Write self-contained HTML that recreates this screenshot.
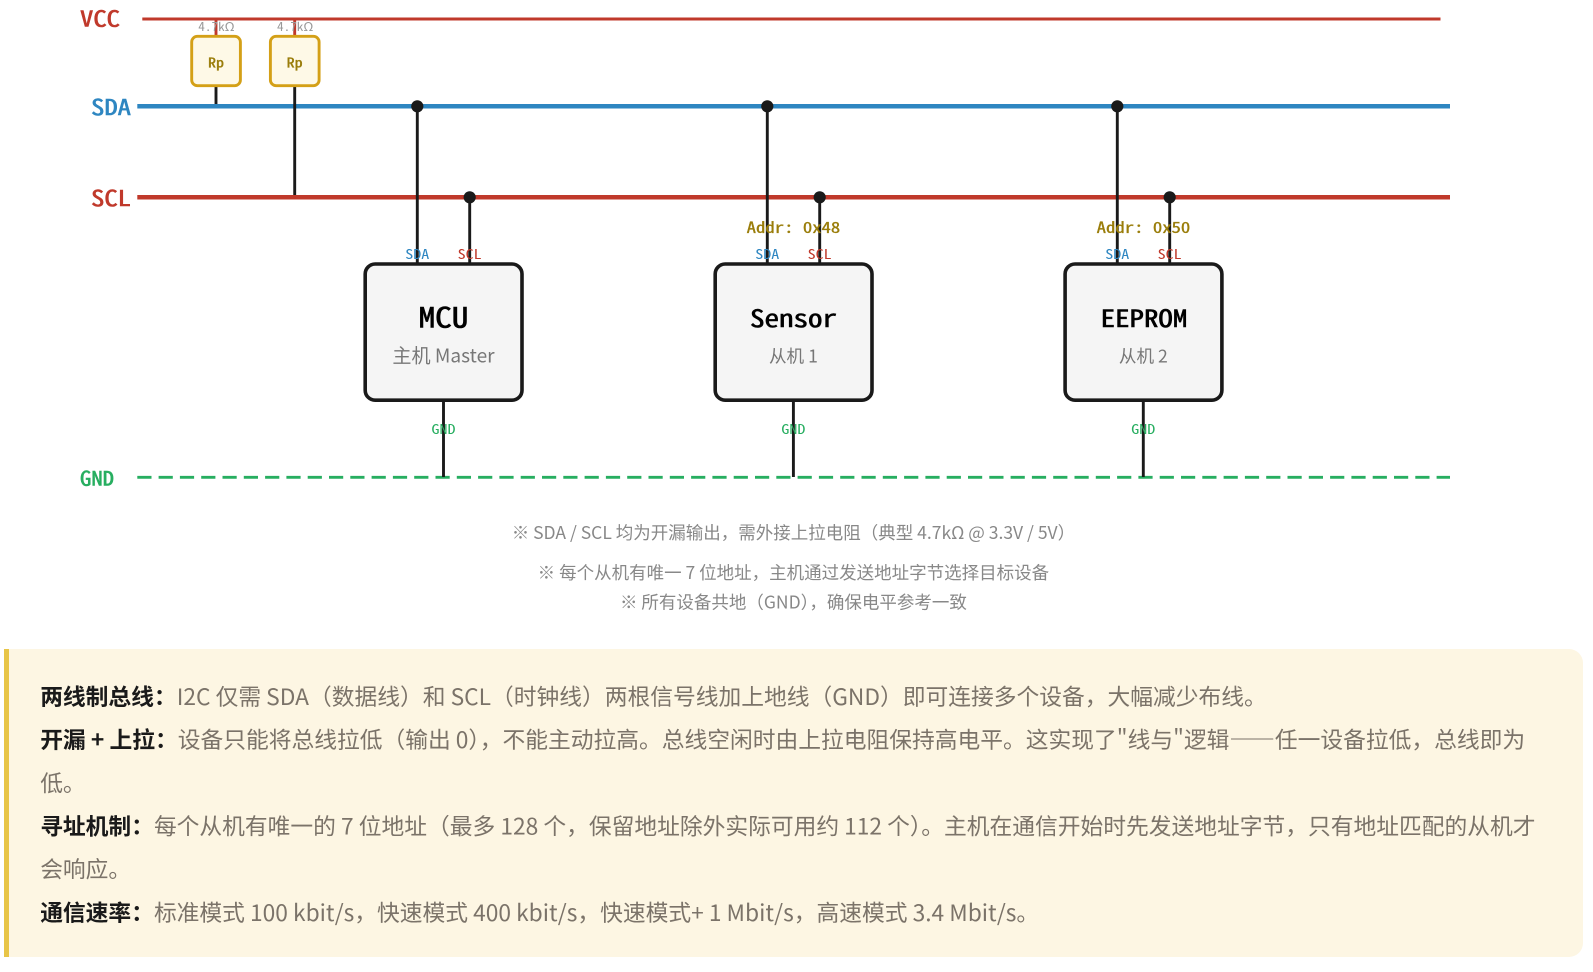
<!DOCTYPE html>
<html lang="zh">
<head>
<meta charset="utf-8">
<title>I2C</title>
<style>
html,body{margin:0;padding:0;background:#fff;width:1593px;height:972px;overflow:hidden}
svg{display:block;position:absolute;left:0;top:0}
text{white-space:pre}
.m{font-family:"Noto Sans Mono CJK SC","DejaVu Sans Mono","Liberation Mono",monospace}
.c{font-family:"Noto Sans CJK SC","Liberation Sans",sans-serif}
.lb{font-size:22px;font-weight:400;stroke-width:.55px}
.pin{font-size:13.3px}
.addr{font-size:15.6px;font-weight:400;fill:#9a7d0a;stroke:#9a7d0a;stroke-width:.3px}
.body{font-size:22.76px;fill:#7b7369}
.body .k{font-weight:700;fill:#1a1a1a}
.note{fill:#888;text-anchor:middle;font-size:17.5px}
.sub{font-size:19.1px;fill:#777;text-anchor:middle}
.sub2{font-size:17.6px;fill:#777;text-anchor:middle}
</style>
</head>
<body>
<svg width="1593" height="972" viewBox="0 0 1593 972" xmlns="http://www.w3.org/2000/svg">
<line x1="142.3" y1="19" x2="1440.5" y2="19" stroke="#c0392b" stroke-width="2.9"/>
<line x1="216" y1="19" x2="216" y2="37" stroke="#c0392b" stroke-width="2.9"/>
<line x1="294.7" y1="19" x2="294.7" y2="37" stroke="#c0392b" stroke-width="2.9"/>

<line x1="137.3" y1="106.3" x2="1450" y2="106.3" stroke="#2e86c1" stroke-width="4.5"/>
<line x1="137.3" y1="197.3" x2="1450" y2="197.3" stroke="#c0392b" stroke-width="4.5"/>
<line x1="137.3" y1="477.3" x2="1450" y2="477.3" stroke="#27ae60" stroke-width="2.9" stroke-dasharray="14.2 7.1"/>

<line x1="216" y1="85" x2="216" y2="104" stroke="#1a1a1a" stroke-width="2.9"/>
<line x1="294.7" y1="85" x2="294.7" y2="195" stroke="#1a1a1a" stroke-width="2.9"/>

<rect x="191.7" y="36.3" width="48.7" height="49.4" rx="5.7" fill="#fef9e7" stroke="#d4a017" stroke-width="2.9"/>
<rect x="270.4" y="36.3" width="48.7" height="49.4" rx="5.7" fill="#fef9e7" stroke="#d4a017" stroke-width="2.9"/>

<g stroke="#1a1a1a" stroke-width="2.9">
<line x1="417.3" y1="106" x2="417.3" y2="264"/>
<line x1="469.7" y1="197" x2="469.7" y2="264"/>
<line x1="767.3" y1="106" x2="767.3" y2="264"/>
<line x1="819.7" y1="197" x2="819.7" y2="264"/>
<line x1="1117.3" y1="106" x2="1117.3" y2="264"/>
<line x1="1169.7" y1="197" x2="1169.7" y2="264"/>
<line x1="443.5" y1="400" x2="443.5" y2="477"/>
<line x1="793.4" y1="400" x2="793.4" y2="477"/>
<line x1="1143.3" y1="400" x2="1143.3" y2="477"/>
</g>
<g fill="#1a1a1a">
<circle cx="417.3" cy="106.3" r="6.1"/><circle cx="469.7" cy="197.3" r="6.1"/>
<circle cx="767.3" cy="106.3" r="6.1"/><circle cx="819.7" cy="197.3" r="6.1"/>
<circle cx="1117.3" cy="106.3" r="6.1"/><circle cx="1169.7" cy="197.3" r="6.1"/>
</g>
<g fill="#f5f5f5" stroke="#1a1a1a" stroke-width="3.6">
<rect x="365.2" y="264" width="156.8" height="136.2" rx="10"/>
<rect x="715.2" y="264" width="156.8" height="136.2" rx="10"/>
<rect x="1065.1" y="264" width="156.8" height="136.2" rx="10"/>
</g>

<g class="m">
<text class="lb" x="80" y="26.3" fill="#c0392b" stroke="#c0392b" textLength="40" lengthAdjust="spacingAndGlyphs">VCC</text>
<text class="lb" x="91" y="115" fill="#2e86c1" stroke="#2e86c1" textLength="40" lengthAdjust="spacingAndGlyphs">SDA</text>
<text class="lb" x="91" y="206" fill="#c0392b" stroke="#c0392b" textLength="40" lengthAdjust="spacingAndGlyphs">SCL</text>
<text x="80" y="485.5" font-size="20" fill="#27ae60" stroke="#27ae60" stroke-width=".55" textLength="34" lengthAdjust="spacingAndGlyphs">GND</text>

<text x="198.3" y="31" font-size="12.2" fill="#999" textLength="36.4" lengthAdjust="spacingAndGlyphs">4.7kΩ</text>
<text x="277" y="31" font-size="12.2" fill="#999" textLength="36.4" lengthAdjust="spacingAndGlyphs">4.7kΩ</text>
<text x="208" y="67.5" font-size="13.4" fill="#9a7d0a" stroke="#9a7d0a" stroke-width=".35" textLength="16" lengthAdjust="spacingAndGlyphs">Rp</text>
<text x="286.7" y="67.5" font-size="13.4" fill="#9a7d0a" stroke="#9a7d0a" stroke-width=".35" textLength="16" lengthAdjust="spacingAndGlyphs">Rp</text>

<text class="addr" x="746.7" y="233" textLength="93.6" lengthAdjust="spacingAndGlyphs">Addr: 0x48</text>
<text class="addr" x="1096.7" y="233" textLength="93.6" lengthAdjust="spacingAndGlyphs">Addr: 0x50</text>

<g class="pin">
<text x="405.3" y="259" fill="#2e86c1" textLength="24" lengthAdjust="spacingAndGlyphs">SDA</text>
<text x="457.7" y="259" fill="#c0392b" textLength="24" lengthAdjust="spacingAndGlyphs">SCL</text>
<text x="755.3" y="259" fill="#2e86c1" textLength="24" lengthAdjust="spacingAndGlyphs">SDA</text>
<text x="807.7" y="259" fill="#c0392b" textLength="24" lengthAdjust="spacingAndGlyphs">SCL</text>
<text x="1105.3" y="259" fill="#2e86c1" textLength="24" lengthAdjust="spacingAndGlyphs">SDA</text>
<text x="1157.7" y="259" fill="#c0392b" textLength="24" lengthAdjust="spacingAndGlyphs">SCL</text>
<text x="431.5" y="434" fill="#27ae60" textLength="24" lengthAdjust="spacingAndGlyphs">GND</text>
<text x="781.4" y="434" fill="#27ae60" textLength="24" lengthAdjust="spacingAndGlyphs">GND</text>
<text x="1131.3" y="434" fill="#27ae60" textLength="24" lengthAdjust="spacingAndGlyphs">GND</text>
</g>

<text x="418.6" y="327.3" font-size="27.6" fill="#000" stroke="#000" stroke-width=".6" textLength="49.8" lengthAdjust="spacingAndGlyphs">MCU</text>
<text x="750" y="327" font-size="24" fill="#000" stroke="#000" stroke-width=".55" textLength="87" lengthAdjust="spacingAndGlyphs">Sensor</text>
<text x="1100.7" y="327" font-size="24" fill="#000" stroke="#000" stroke-width=".55" textLength="86.6" lengthAdjust="spacingAndGlyphs">EEPROM</text>
</g>

<g class="c">
<text class="sub" x="443.5" y="362.3">主机 Master</text>
<text class="sub2" x="793.4" y="362.5">从机 1</text>
<text class="sub2" x="1143.3" y="362.5">从机 2</text>

<text class="note" x="793.4" y="539">※ SDA / SCL 均为开漏输出，需外接上拉电阻（典型 4.7kΩ @ 3.3V / 5V）</text>
<text class="note" x="793.4" y="578.8">※ 每个从机有唯一 7 位地址，主机通过发送地址字节选择目标设备</text>
<text class="note" x="793.4" y="608.5">※ 所有设备共地（GND），确保电平参考一致</text>
</g>

<path d="M4 649H1569a14 14 0 0 1 14 14V943a14 14 0 0 1-14 14H4Z" fill="#fdf6e3"/>
<rect x="4" y="649" width="5" height="308" fill="#e8c547"/>

<g class="c body">
<text x="40.2" y="705"><tspan class="k">两线制总线：</tspan>I2C 仅需 SDA（数据线）和 SCL（时钟线）两根信号线加上地线（GND）即可连接多个设备，大幅减少布线。</text>
<text x="40.2" y="748.2"><tspan class="k">开漏 + 上拉：</tspan>设备只能将总线拉低（输出 0），不能主动拉高。总线空闲时由上拉电阻保持高电平。这实现了"线与"逻辑——任一设备拉低，总线即为</text>
<text x="40.2" y="791.4">低。</text>
<text x="40.2" y="834.6"><tspan class="k">寻址机制：</tspan>每个从机有唯一的 7 位地址（最多 128 个，保留地址除外实际可用约 112 个）。主机在通信开始时先发送地址字节，只有地址匹配的从机才</text>
<text x="40.2" y="877.6">会响应。</text>
<text x="40.2" y="921"><tspan class="k">通信速率：</tspan>标准模式 100 kbit/s，快速模式 400 kbit/s，快速模式+ 1 Mbit/s，高速模式 3.4 Mbit/s。</text>
</g>
</svg>
</body>
</html>
